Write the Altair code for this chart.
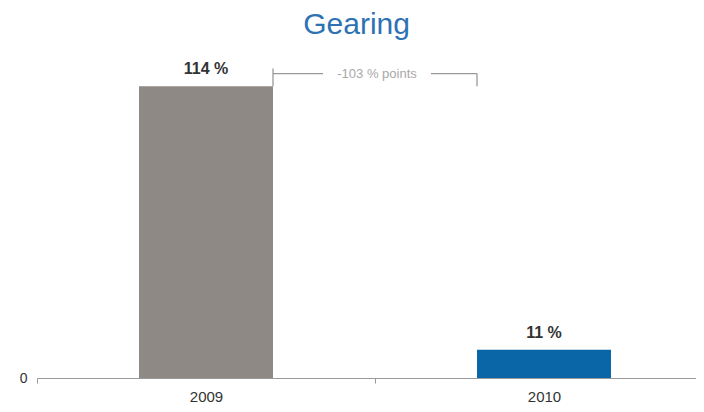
import altair as alt
import pandas as pd

years = ["2009", "2010"]
gearing = [114, 11]
labels = ["114 %", "11 %"]
bar_colors = ["#8e8985", "#0a66a6"]
change_label = "-103 % points"
bracket_base = 114
bracket_level = 119
bracket_top = 121

pos = [i + 0.5 for i in range(len(years))]
bars_df = pd.DataFrame({"pos": pos, "year": years, "value": gearing, "label": labels, "color": bar_colors})

PLOT_W = 659
STEP = 338
x_scale = alt.Scale(domain=[0, PLOT_W / STEP], nice=False, zero=False, padding=0)
y_scale = alt.Scale(domain=[0, 129], nice=False, padding=0)

label_expr = "datum.value < 1 ? '" + years[0] + "' : '" + years[1] + "'"

tick_axis = alt.Axis(title=None, orient="bottom", values=[0, 1, 2], labels=False,
                     domainColor="#9a9a9a", tickColor="#9a9a9a", tickSize=5, grid=False)
label_axis = alt.Axis(title=None, orient="bottom", values=pos, ticks=False, domain=False, grid=False,
                      labelExpr=label_expr, labelFontSize=15, labelColor="#333333",
                      labelFont="Arial", labelPadding=11)

y_enc = alt.Y("value:Q", scale=y_scale,
              axis=alt.Axis(title=None, values=[0], ticks=False, domain=False, grid=False,
                            labelFontSize=14, labelColor="#333333", labelFont="Arial",
                            labelPadding=10))

bars = alt.Chart(bars_df).mark_bar(size=134).encode(
    x=alt.X("pos:Q", scale=x_scale, axis=tick_axis), y=y_enc, color=alt.Color("color:N", scale=None)
)

text = alt.Chart(bars_df).mark_text(
    baseline="bottom", dy=-9, fontSize=16, fontWeight="bold", color="#333333", font="Arial"
).encode(x=alt.X("pos:Q", scale=x_scale, axis=label_axis),
         y=alt.Y("value:Q", scale=y_scale), text="label:N")

# bracket between the two bars
bl = pd.DataFrame({"pos": [pos[0]], "pos2": [pos[1]], "y": [bracket_base], "y2": [bracket_top],
                   "yl": [bracket_level], "t": [change_label]})
br = pd.DataFrame({"pos": [pos[1]], "y": [bracket_base], "y2": [bracket_level]})
rule_style = dict(color="#9a9a9a", strokeWidth=1.3)
xa = dict(scale=x_scale, axis=None)

left_v = alt.Chart(bl).mark_rule(xOffset=67, **rule_style).encode(
    x=alt.X("pos:Q", **xa), y=alt.Y("y:Q", scale=y_scale), y2="y2:Q")
right_v = alt.Chart(br).mark_rule(xOffset=-67, **rule_style).encode(
    x=alt.X("pos:Q", **xa), y=alt.Y("y:Q", scale=y_scale), y2="y2:Q")
h_left = alt.Chart(bl).mark_rule(xOffset=67, x2Offset=117, **rule_style).encode(
    x=alt.X("pos:Q", **xa), x2="pos:Q", y=alt.Y("yl:Q", scale=y_scale))
h_right = alt.Chart(bl).mark_rule(xOffset=-113, x2Offset=-67, **rule_style).encode(
    x=alt.X("pos2:Q", **xa), x2="pos2:Q", y=alt.Y("yl:Q", scale=y_scale))
change_text = alt.Chart(bl).mark_text(
    xOffset=171, fontSize=13, color="#a8a8a8", font="Arial", baseline="middle"
).encode(x=alt.X("pos:Q", **xa), y=alt.Y("yl:Q", scale=y_scale), text="t:N")

chart = alt.layer(bars, text, left_v, right_v, h_left, h_right, change_text).resolve_axis(
    x="independent"
).properties(
    width=PLOT_W, height=330,
    title=alt.TitleParams("Gearing", fontSize=30, font="Arial", fontWeight="normal",
                          color="#2e72b4", anchor="start", dx=284, offset=8),
    autosize=alt.AutoSizeParams(type="none"),
    padding={"left": 29, "top": 40, "right": 0, "bottom": 26},
).configure_view(stroke=None)

chart.save("out.html", embed_options={"renderer": "svg", "actions": False})
